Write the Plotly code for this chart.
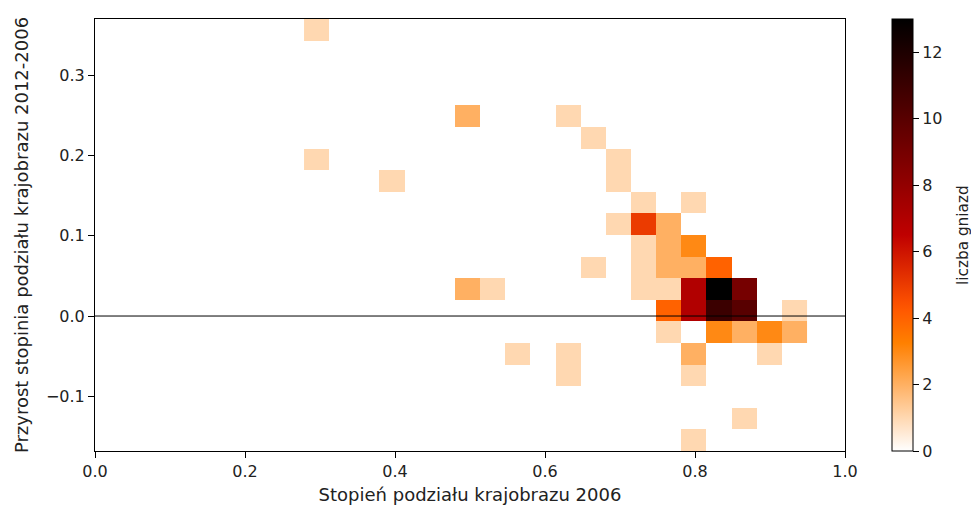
import numpy as np
import plotly.graph_objects as go

# ---- data -------------------------------------------------------------
n_bins = 20
x_min, x_max = 0.2787, 0.9487      # extent of x bins (Stopień podziału 2006)
y_min, y_max = -0.1681, 0.3699     # extent of y bins (przyrost 2012-2006)

# non-empty bins: column index (left -> right), row index (top -> bottom), count
bin_col = [0, 0, 3, 6, 6, 7, 8, 10, 10, 10, 11, 11, 12, 12, 12, 13, 15,
           13, 14, 13, 14, 15, 13, 14, 15, 16, 13, 14, 15, 16, 17,
           14, 15, 16, 17, 19, 14, 16, 17, 18, 19, 15, 18, 15, 17, 15]
bin_row = [0, 6, 7, 4, 12, 12, 15, 15, 16, 4, 5, 11, 6, 7, 9, 8, 8,
           9, 9, 10, 10, 10, 11, 11, 11, 11, 12, 12, 12, 12, 12,
           13, 13, 13, 13, 13, 14, 14, 14, 14, 14, 15, 15, 16, 18, 19]
bin_count = [1, 1, 1, 2, 2, 1, 1, 1, 1, 1, 1, 1, 1, 1, 1, 1, 1,
             5, 2, 1, 2, 3, 1, 2, 2, 4, 1, 1, 7, 13, 9,
             4, 7, 11, 10, 1, 1, 3, 2, 3, 2, 2, 1, 1, 1, 1]

x_ticks = [0.0, 0.2, 0.4, 0.6, 0.8, 1.0]
y_ticks = [-0.1, 0.0, 0.1, 0.2, 0.3]
cb_ticks = [0, 2, 4, 6, 8, 10, 12]
z_max = 13

x_title = "Stopień podziału krajobrazu 2006"
y_title = "Przyrost stopinia podziału krajobrazu 2012-2006"
cb_title = "liczba gniazd"

# ---- build grid -------------------------------------------------------
x_edges = np.linspace(x_min, x_max, n_bins + 1)
y_edges = np.linspace(y_min, y_max, n_bins + 1)
z = np.zeros((n_bins, n_bins))
for c, r, v in zip(bin_col, bin_row, bin_count):
    z[n_bins - 1 - r, c] = v


def gist_heat_r(t):
    x = 1.0 - t
    r = min(1.0, 1.5 * x)
    g = max(0.0, min(1.0, 2 * x - 1))
    b = max(0.0, min(1.0, 4 * x - 3))
    return f"rgb({round(r*255)},{round(g*255)},{round(b*255)})"


colorscale = [[t, gist_heat_r(t)] for t in np.linspace(0, 1, 41)]

FONT = "DejaVu Sans"
TXT = "#222222"
TICK_SIZE = 16
TITLE_SIZE = 15.3

fig = go.Figure()
fig.add_trace(go.Heatmap(
    x=x_edges, y=y_edges, z=z,
    zmin=0, zmax=z_max, colorscale=colorscale,
    colorbar=dict(
        thickness=21, len=1, lenmode="fraction", y=0.5, yanchor="middle",
        x=1.0627, xanchor="left", xpad=0, ypad=0,
        outlinecolor="black", outlinewidth=1,
        tickvals=cb_ticks, ticks="outside", ticklen=6, tickcolor="black",
        tickfont=dict(family=FONT, size=TICK_SIZE, color=TXT),
    ),
    hoverinfo="skip",
))

fig.add_shape(type="line", xref="x", yref="y", x0=0, x1=1, y0=0, y1=0,
              line=dict(color="black", width=1), layer="above")

fig.add_annotation(
    text=cb_title, textangle=-90, xref="paper", yref="paper",
    x=(963 - 95) / 750, y=0.5, xanchor="center", yanchor="middle",
    showarrow=False, font=dict(family=FONT, size=TITLE_SIZE, color=TXT),
)

fig.update_layout(
    width=971, height=508, autosize=False,
    margin=dict(l=95, r=126, t=19, b=57, autoexpand=False),
    paper_bgcolor="white", plot_bgcolor="white",
    font=dict(family=FONT, size=TITLE_SIZE, color=TXT),
    xaxis=dict(
        range=[0, 1], tickvals=x_ticks, ticktext=[f"{v:.1f}" for v in x_ticks],
        tickfont=dict(size=TICK_SIZE), automargin=False,
        showline=True, linecolor="black", linewidth=1, mirror=True,
        ticks="outside", ticklen=6, tickcolor="black",
        showgrid=False, zeroline=False,
        title=dict(text=x_title, standoff=8),
    ),
    yaxis=dict(
        range=[y_min, y_max], tickvals=y_ticks,
        ticktext=[f"{v:.1f}".replace("-", "\u2212") for v in y_ticks],
        tickfont=dict(size=TICK_SIZE), automargin=False,
        showline=True, linecolor="black", linewidth=1, mirror=True,
        ticks="outside", ticklen=6, tickcolor="black",
        showgrid=False, zeroline=False,
        title=dict(text=y_title, standoff=12),
    ),
)

fig.write_html("out.html")
